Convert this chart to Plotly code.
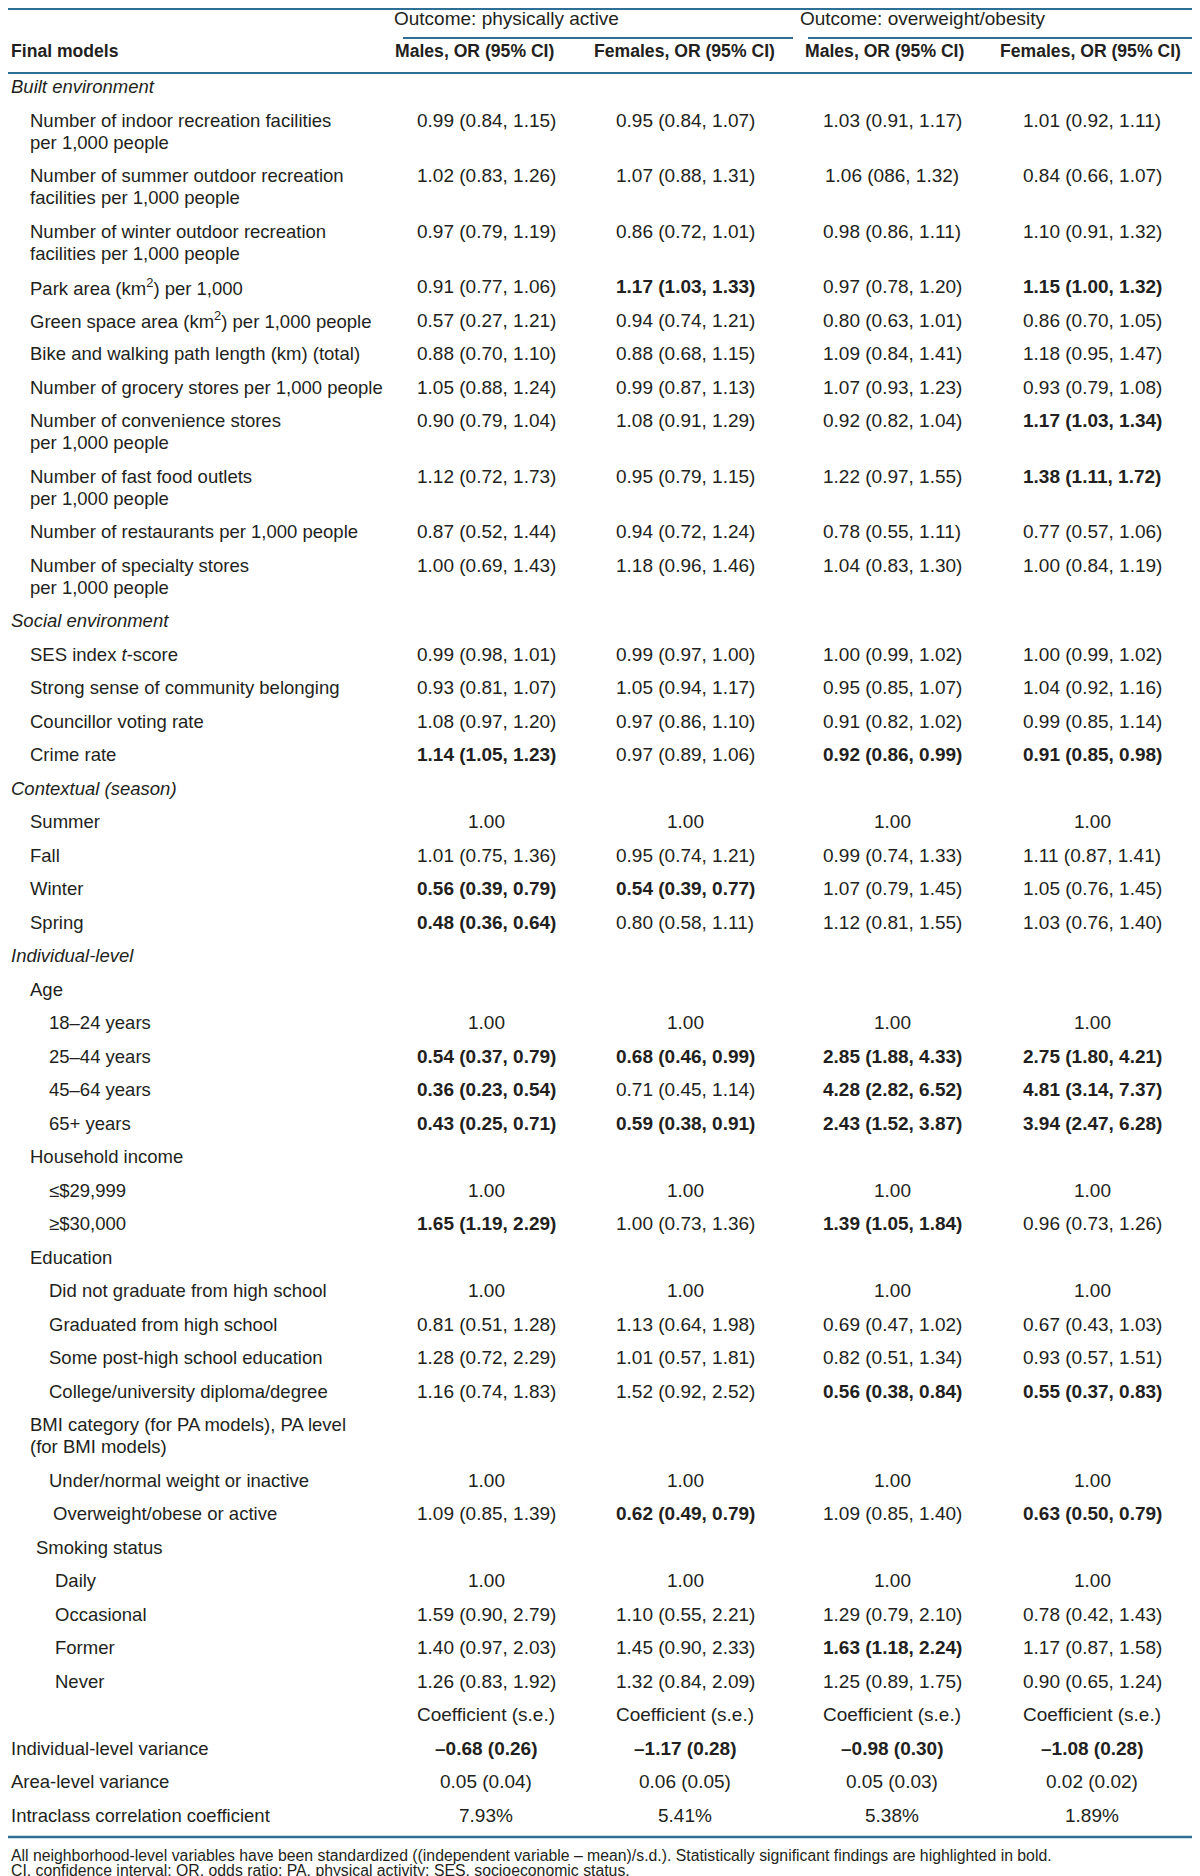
import plotly.graph_objects as go

# ---------------- data ----------------
labels = [
    "Built environment",
    "Number of indoor recreation facilities<br>per 1,000 people",
    "Number of summer outdoor recreation<br>facilities per 1,000 people",
    "Number of winter outdoor recreation<br>facilities per 1,000 people",
    "Park area (km<sup>2</sup>) per 1,000",
    "Green space area (km<sup>2</sup>) per 1,000 people",
    "Bike and walking path length (km) (total)",
    "Number of grocery stores per 1,000 people",
    "Number of convenience stores<br>per 1,000 people",
    "Number of fast food outlets<br>per 1,000 people",
    "Number of restaurants per 1,000 people",
    "Number of specialty stores<br>per 1,000 people",
    "Social environment",
    "SES index <i>t</i>-score",
    "Strong sense of community belonging",
    "Councillor voting rate",
    "Crime rate",
    "Contextual (season)",
    "Summer",
    "Fall",
    "Winter",
    "Spring",
    "Individual-level",
    "Age",
    "18–24 years",
    "25–44 years",
    "45–64 years",
    "65+ years",
    "Household income",
    "≤$29,999",
    "≥$30,000",
    "Education",
    "Did not graduate from high school",
    "Graduated from high school",
    "Some post-high school education",
    "College/university diploma/degree",
    "BMI category (for PA models), PA level<br>(for BMI models)",
    "Under/normal weight or inactive",
    "Overweight/obese or active",
    "Smoking status",
    "Daily",
    "Occasional",
    "Former",
    "Never",
    "",
    "Individual-level variance",
    "Area-level variance",
    "Intraclass correlation coefficient",
]

levels = [0, 1, 1, 1, 1, 1, 1, 1, 1, 1, 1, 1,
          0, 1, 1, 1, 1,
          0, 1, 1, 1, 1,
          0, 1, 2, 2, 2, 2, 1, 2, 2, 1, 2, 2, 2, 2, 1, 2, 2.2, 1.3, 2.3, 2.3, 2.3, 2.3,
          1, 0, 0, 0]

category_rows = [0, 12, 17, 22]

males_pa = [
    "", "0.99 (0.84, 1.15)", "1.02 (0.83, 1.26)", "0.97 (0.79, 1.19)", "0.91 (0.77, 1.06)",
    "0.57 (0.27, 1.21)", "0.88 (0.70, 1.10)", "1.05 (0.88, 1.24)", "0.90 (0.79, 1.04)",
    "1.12 (0.72, 1.73)", "0.87 (0.52, 1.44)", "1.00 (0.69, 1.43)",
    "", "0.99 (0.98, 1.01)", "0.93 (0.81, 1.07)", "1.08 (0.97, 1.20)", "1.14 (1.05, 1.23)",
    "", "1.00", "1.01 (0.75, 1.36)", "0.56 (0.39, 0.79)", "0.48 (0.36, 0.64)",
    "", "", "1.00", "0.54 (0.37, 0.79)", "0.36 (0.23, 0.54)", "0.43 (0.25, 0.71)",
    "", "1.00", "1.65 (1.19, 2.29)",
    "", "1.00", "0.81 (0.51, 1.28)", "1.28 (0.72, 2.29)", "1.16 (0.74, 1.83)",
    "", "1.00", "1.09 (0.85, 1.39)",
    "", "1.00", "1.59 (0.90, 2.79)", "1.40 (0.97, 2.03)", "1.26 (0.83, 1.92)",
    "Coefficient (s.e.)", "–0.68 (0.26)", "0.05 (0.04)", "7.93%",
]
females_pa = [
    "", "0.95 (0.84, 1.07)", "1.07 (0.88, 1.31)", "0.86 (0.72, 1.01)", "1.17 (1.03, 1.33)",
    "0.94 (0.74, 1.21)", "0.88 (0.68, 1.15)", "0.99 (0.87, 1.13)", "1.08 (0.91, 1.29)",
    "0.95 (0.79, 1.15)", "0.94 (0.72, 1.24)", "1.18 (0.96, 1.46)",
    "", "0.99 (0.97, 1.00)", "1.05 (0.94, 1.17)", "0.97 (0.86, 1.10)", "0.97 (0.89, 1.06)",
    "", "1.00", "0.95 (0.74, 1.21)", "0.54 (0.39, 0.77)", "0.80 (0.58, 1.11)",
    "", "", "1.00", "0.68 (0.46, 0.99)", "0.71 (0.45, 1.14)", "0.59 (0.38, 0.91)",
    "", "1.00", "1.00 (0.73, 1.36)",
    "", "1.00", "1.13 (0.64, 1.98)", "1.01 (0.57, 1.81)", "1.52 (0.92, 2.52)",
    "", "1.00", "0.62 (0.49, 0.79)",
    "", "1.00", "1.10 (0.55, 2.21)", "1.45 (0.90, 2.33)", "1.32 (0.84, 2.09)",
    "Coefficient (s.e.)", "–1.17 (0.28)", "0.06 (0.05)", "5.41%",
]
males_ow = [
    "", "1.03 (0.91, 1.17)", "1.06 (086, 1.32)", "0.98 (0.86, 1.11)", "0.97 (0.78, 1.20)",
    "0.80 (0.63, 1.01)", "1.09 (0.84, 1.41)", "1.07 (0.93, 1.23)", "0.92 (0.82, 1.04)",
    "1.22 (0.97, 1.55)", "0.78 (0.55, 1.11)", "1.04 (0.83, 1.30)",
    "", "1.00 (0.99, 1.02)", "0.95 (0.85, 1.07)", "0.91 (0.82, 1.02)", "0.92 (0.86, 0.99)",
    "", "1.00", "0.99 (0.74, 1.33)", "1.07 (0.79, 1.45)", "1.12 (0.81, 1.55)",
    "", "", "1.00", "2.85 (1.88, 4.33)", "4.28 (2.82, 6.52)", "2.43 (1.52, 3.87)",
    "", "1.00", "1.39 (1.05, 1.84)",
    "", "1.00", "0.69 (0.47, 1.02)", "0.82 (0.51, 1.34)", "0.56 (0.38, 0.84)",
    "", "1.00", "1.09 (0.85, 1.40)",
    "", "1.00", "1.29 (0.79, 2.10)", "1.63 (1.18, 2.24)", "1.25 (0.89, 1.75)",
    "Coefficient (s.e.)", "–0.98 (0.30)", "0.05 (0.03)", "5.38%",
]
females_ow = [
    "", "1.01 (0.92, 1.11)", "0.84 (0.66, 1.07)", "1.10 (0.91, 1.32)", "1.15 (1.00, 1.32)",
    "0.86 (0.70, 1.05)", "1.18 (0.95, 1.47)", "0.93 (0.79, 1.08)", "1.17 (1.03, 1.34)",
    "1.38 (1.11, 1.72)", "0.77 (0.57, 1.06)", "1.00 (0.84, 1.19)",
    "", "1.00 (0.99, 1.02)", "1.04 (0.92, 1.16)", "0.99 (0.85, 1.14)", "0.91 (0.85, 0.98)",
    "", "1.00", "1.11 (0.87, 1.41)", "1.05 (0.76, 1.45)", "1.03 (0.76, 1.40)",
    "", "", "1.00", "2.75 (1.80, 4.21)", "4.81 (3.14, 7.37)", "3.94 (2.47, 6.28)",
    "", "1.00", "0.96 (0.73, 1.26)",
    "", "1.00", "0.67 (0.43, 1.03)", "0.93 (0.57, 1.51)", "0.55 (0.37, 0.83)",
    "", "1.00", "0.63 (0.50, 0.79)",
    "", "1.00", "0.78 (0.42, 1.43)", "1.17 (0.87, 1.58)", "0.90 (0.65, 1.24)",
    "Coefficient (s.e.)", "–1.08 (0.28)", "0.02 (0.02)", "1.89%",
]

# rows with statistically significant findings (shown in bold)
sig_males_pa = [16, 20, 21, 25, 26, 27, 30, 45]
sig_females_pa = [4, 20, 25, 27, 38, 45]
sig_males_ow = [16, 25, 26, 27, 30, 35, 42, 45]
sig_females_ow = [4, 8, 9, 16, 25, 26, 27, 35, 38, 45]

outcome_headers = ["Outcome: physically active", "Outcome: overweight/obesity"]
column_headers = ["Males, OR (95% CI)", "Females, OR (95% CI)",
                  "Males, OR (95% CI)", "Females, OR (95% CI)"]
stub_header = "Final models"

footnotes = [
    "All neighborhood-level variables have been standardized ((independent variable – mean)/s.d.). "
    "Statistically significant findings are highlighted in bold.",
    "CI, confidence interval; OR, odds ratio; PA, physical activity; SES, socioeconomic status.",
]

# ---------------- layout constants ----------------
W, H = 1200, 1876
FONT = "Liberation Sans, Arial, Helvetica, sans-serif"
TXT = "#231f20"
LINE = "#2f6f93"
FS_LAB = 18.5
FS_VAL = 19
FS_HEAD = 17.6
ROW = 33.5        # single-line row height
LGAP = 22         # extra per additional line
BODY_TOP = 62
X0 = 2
INDENT = 19
COL_X = [478, 677, 884, 1084]
HEAD_X = [466, 676, 876, 1082]

cols = [males_pa, females_pa, males_ow, females_ow]
sigs = [sig_males_pa, sig_females_pa, sig_males_ow, sig_females_ow]

fig = go.Figure()
ann = []


def add(x, y, text, anchor="left", size=FS_LAB, bold=False, italic=False):
    t = text
    if italic:
        t = "<i>" + t + "</i>"
    if bold:
        t = "<b>" + t + "</b>"
    ann.append(dict(x=x, y=y, xref="x", yref="y", text=t, showarrow=False,
                    xanchor=anchor, yanchor="middle", borderpad=0,
                    font=dict(family=FONT, size=size, color=TXT)))


# header
add(385, 10, outcome_headers[0], size=19)
add(791, 10, outcome_headers[1], size=19)
add(X0, 43, stub_header, bold=True, size=FS_HEAD)
for hx, ht in zip(HEAD_X, column_headers):
    add(hx, 43, ht, anchor="center", bold=True, size=FS_HEAD)

# body
y = BODY_TOP
last_bottom = y
for i, lab in enumerate(labels):
    parts = lab.split("<br>")
    h = ROW + LGAP * (len(parts) - 1)
    yc = y + ROW / 2
    for k, p in enumerate(parts):
        if p:
            add(X0 + INDENT * levels[i], yc + LGAP * k, p, italic=(i in category_rows))
    for cx, col, sg in zip(COL_X, cols, sigs):
        if col[i]:
            add(cx, yc, col[i], anchor="center", size=FS_VAL, bold=(i in sg))
    y += h
    last_bottom = y

# footnotes
add(X0, 1847, footnotes[0], size=15.8)
add(X0, 1862, footnotes[1], size=15.8)

shapes = [
    dict(type="line", xref="x", yref="y", x0=0, x1=W, y0=1, y1=1, line=dict(color=LINE, width=2)),
    dict(type="line", xref="x", yref="y", x0=395, x1=785, y0=30, y1=30, line=dict(color=LINE, width=2)),
    dict(type="line", xref="x", yref="y", x0=800, x1=1185, y0=30, y1=30, line=dict(color=LINE, width=2)),
    dict(type="line", xref="x", yref="y", x0=0, x1=W, y0=65, y1=65, line=dict(color=LINE, width=2)),
    dict(type="line", xref="x", yref="y", x0=0, x1=W, y0=last_bottom + 5, y1=last_bottom + 5,
         line=dict(color=LINE, width=2.5)),
]

fig.update_layout(
    width=W, height=H,
    margin=dict(l=0, r=0, t=0, b=0),
    paper_bgcolor="white", plot_bgcolor="white",
    xaxis=dict(range=[0, W], visible=False, fixedrange=True),
    yaxis=dict(range=[H, 0], visible=False, fixedrange=True),
    annotations=ann, shapes=shapes, showlegend=False,
)

fig.write_html("out.html")
